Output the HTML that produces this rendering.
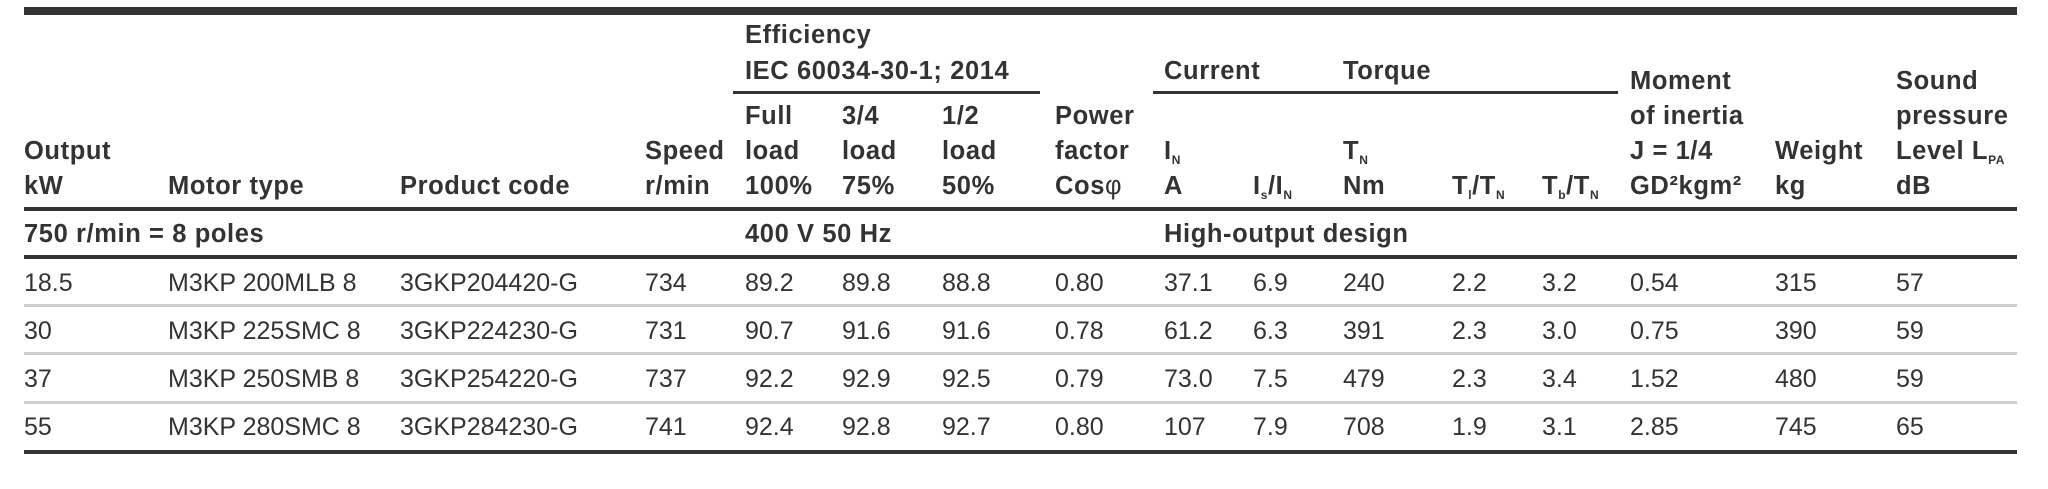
<!DOCTYPE html>
<html><head><meta charset="utf-8"><style>
body{margin:0;width:2048px;height:489px;background:#fff;overflow:hidden;position:relative;font-family:"Liberation Sans",sans-serif;color:#333;}
.t{position:absolute;line-height:30px;font-size:25px;white-space:nowrap;}
.h{font-weight:bold;font-size:25.5px;letter-spacing:0.6px;color:#333;}
.r{position:absolute;background:#333;}
.s{position:absolute;background:#cfcfcf;height:3px;left:24px;width:1993px;}
sub{font-size:12px;vertical-align:-5px;line-height:0;}
</style></head><body>
<div class="r" style="left:24px;top:7px;width:1993px;height:8px;"></div>
<div class="r" style="left:733px;top:91px;width:307px;height:3px;"></div>
<div class="r" style="left:1153px;top:91px;width:465px;height:3px;"></div>
<div class="r" style="left:24px;top:207px;width:1993px;height:4px;"></div>
<div class="r" style="left:24px;top:255px;width:1993px;height:4px;"></div>
<div class="s" style="top:304px;"></div>
<div class="s" style="top:352px;"></div>
<div class="s" style="top:401px;"></div>
<div class="r" style="left:24px;top:450px;width:1993px;height:4px;"></div>

<div class="t h" style="left:745px;top:20px;">Efficiency</div>
<div class="t h" style="left:745px;top:56px;">IEC 60034-30-1; 2014</div>
<div class="t h" style="left:1164px;top:56px;">Current</div>
<div class="t h" style="left:1343px;top:56px;">Torque</div>
<div class="t h" style="left:1630px;top:66px;">Moment</div>
<div class="t h" style="left:1896px;top:66px;">Sound</div>

<div class="t h" style="left:745px;top:101px;">Full</div>
<div class="t h" style="left:842px;top:101px;">3/4</div>
<div class="t h" style="left:942px;top:101px;">1/2</div>
<div class="t h" style="left:1055px;top:101px;">Power</div>
<div class="t h" style="left:1630px;top:101px;">of inertia</div>
<div class="t h" style="left:1896px;top:101px;">pressure</div>

<div class="t h" style="left:24px;top:136px;">Output</div>
<div class="t h" style="left:645px;top:136px;">Speed</div>
<div class="t h" style="left:745px;top:136px;">load</div>
<div class="t h" style="left:842px;top:136px;">load</div>
<div class="t h" style="left:942px;top:136px;">load</div>
<div class="t h" style="left:1055px;top:136px;">factor</div>
<div class="t h" style="left:1164px;top:136px;">I<sub>N</sub></div>
<div class="t h" style="left:1343px;top:136px;">T<sub>N</sub></div>
<div class="t h" style="left:1630px;top:136px;">J = 1/4</div>
<div class="t h" style="left:1775px;top:136px;">Weight</div>
<div class="t h" style="left:1896px;top:136px;">Level L<sub>PA</sub></div>

<div class="t h" style="left:24px;top:171px;">kW</div>
<div class="t h" style="left:168px;top:171px;">Motor type</div>
<div class="t h" style="left:400px;top:171px;">Product code</div>
<div class="t h" style="left:645px;top:171px;">r/min</div>
<div class="t h" style="left:745px;top:171px;">100%</div>
<div class="t h" style="left:842px;top:171px;">75%</div>
<div class="t h" style="left:942px;top:171px;">50%</div>
<div class="t h" style="left:1055px;top:171px;">Cos<span style="font-weight:normal">φ</span></div>
<div class="t h" style="left:1164px;top:171px;">A</div>
<div class="t h" style="left:1253px;top:171px;">I<sub>s</sub>/I<sub>N</sub></div>
<div class="t h" style="left:1343px;top:171px;">Nm</div>
<div class="t h" style="left:1452px;top:171px;">T<sub>l</sub>/T<sub>N</sub></div>
<div class="t h" style="left:1542px;top:171px;">T<sub>b</sub>/T<sub>N</sub></div>
<div class="t h" style="left:1630px;top:171px;">GD²kgm²</div>
<div class="t h" style="left:1775px;top:171px;">kg</div>
<div class="t h" style="left:1896px;top:171px;">dB</div>

<div class="t h" style="left:24px;top:219px;">750 r/min = 8 poles</div>
<div class="t h" style="left:745px;top:219px;">400 V 50 Hz</div>
<div class="t h" style="left:1164px;top:219px;">High-output design</div>

<div class="t" style="left:24px;top:268px;">18.5</div><div class="t" style="left:168px;top:268px;">M3KP 200MLB 8</div><div class="t" style="left:400px;top:268px;">3GKP204420-G</div><div class="t" style="left:645px;top:268px;">734</div><div class="t" style="left:745px;top:268px;">89.2</div><div class="t" style="left:842px;top:268px;">89.8</div><div class="t" style="left:942px;top:268px;">88.8</div><div class="t" style="left:1055px;top:268px;">0.80</div><div class="t" style="left:1164px;top:268px;">37.1</div><div class="t" style="left:1253px;top:268px;">6.9</div><div class="t" style="left:1343px;top:268px;">240</div><div class="t" style="left:1452px;top:268px;">2.2</div><div class="t" style="left:1542px;top:268px;">3.2</div><div class="t" style="left:1630px;top:268px;">0.54</div><div class="t" style="left:1775px;top:268px;">315</div><div class="t" style="left:1896px;top:268px;">57</div>

<div class="t" style="left:24px;top:316px;">30</div><div class="t" style="left:168px;top:316px;">M3KP 225SMC 8</div><div class="t" style="left:400px;top:316px;">3GKP224230-G</div><div class="t" style="left:645px;top:316px;">731</div><div class="t" style="left:745px;top:316px;">90.7</div><div class="t" style="left:842px;top:316px;">91.6</div><div class="t" style="left:942px;top:316px;">91.6</div><div class="t" style="left:1055px;top:316px;">0.78</div><div class="t" style="left:1164px;top:316px;">61.2</div><div class="t" style="left:1253px;top:316px;">6.3</div><div class="t" style="left:1343px;top:316px;">391</div><div class="t" style="left:1452px;top:316px;">2.3</div><div class="t" style="left:1542px;top:316px;">3.0</div><div class="t" style="left:1630px;top:316px;">0.75</div><div class="t" style="left:1775px;top:316px;">390</div><div class="t" style="left:1896px;top:316px;">59</div>

<div class="t" style="left:24px;top:364px;">37</div><div class="t" style="left:168px;top:364px;">M3KP 250SMB 8</div><div class="t" style="left:400px;top:364px;">3GKP254220-G</div><div class="t" style="left:645px;top:364px;">737</div><div class="t" style="left:745px;top:364px;">92.2</div><div class="t" style="left:842px;top:364px;">92.9</div><div class="t" style="left:942px;top:364px;">92.5</div><div class="t" style="left:1055px;top:364px;">0.79</div><div class="t" style="left:1164px;top:364px;">73.0</div><div class="t" style="left:1253px;top:364px;">7.5</div><div class="t" style="left:1343px;top:364px;">479</div><div class="t" style="left:1452px;top:364px;">2.3</div><div class="t" style="left:1542px;top:364px;">3.4</div><div class="t" style="left:1630px;top:364px;">1.52</div><div class="t" style="left:1775px;top:364px;">480</div><div class="t" style="left:1896px;top:364px;">59</div>

<div class="t" style="left:24px;top:412px;">55</div><div class="t" style="left:168px;top:412px;">M3KP 280SMC 8</div><div class="t" style="left:400px;top:412px;">3GKP284230-G</div><div class="t" style="left:645px;top:412px;">741</div><div class="t" style="left:745px;top:412px;">92.4</div><div class="t" style="left:842px;top:412px;">92.8</div><div class="t" style="left:942px;top:412px;">92.7</div><div class="t" style="left:1055px;top:412px;">0.80</div><div class="t" style="left:1164px;top:412px;">107</div><div class="t" style="left:1253px;top:412px;">7.9</div><div class="t" style="left:1343px;top:412px;">708</div><div class="t" style="left:1452px;top:412px;">1.9</div><div class="t" style="left:1542px;top:412px;">3.1</div><div class="t" style="left:1630px;top:412px;">2.85</div><div class="t" style="left:1775px;top:412px;">745</div><div class="t" style="left:1896px;top:412px;">65</div>
</body></html>
